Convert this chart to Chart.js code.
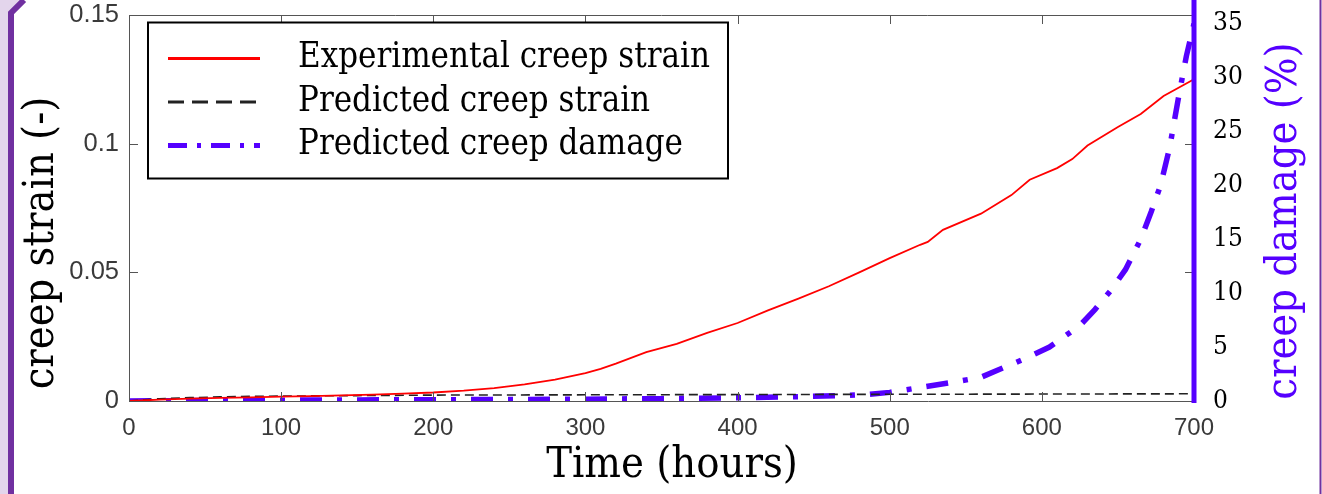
<!DOCTYPE html>
<html>
<head>
<meta charset="utf-8">
<script src="https://cdn.jsdelivr.net/npm/chart.js@4.4.1/dist/chart.umd.min.js"></script>
<style>
  html, body { margin: 0; padding: 0; background: #fff; }
  #wrap { position: relative; width: 1322px; height: 494px; overflow: hidden; }
  #frame { position: absolute; left: 0; top: 0; }
  #grafico { position: absolute; left: 0; top: 0; }
</style>
</head>
<body>
<div id="wrap">
  <svg id="frame" width="1322" height="494">
    <polygon points="0,0 24,0 11,13 11,494 0,494" fill="#e3d5ec"/>
    <polyline points="11,494 11,13 24,0" fill="none" stroke="#7030a0" stroke-width="6"/>
    <line x1="1320.5" y1="0" x2="1320.5" y2="494" stroke="#7030a0" stroke-width="2"/>
  </svg>
  <canvas id="grafico" width="1322" height="494"></canvas>
</div>
<script>
// tempo in ore, deformazione (-) e danno (%)
const oreSperimentali = [0, 20, 40, 60, 80, 100, 120, 140, 160, 180, 200, 220, 240, 260, 280, 300, 310, 320, 340, 360, 380, 400, 420, 440, 460, 480, 500, 520, 525, 535, 560, 580, 592, 610, 620, 630, 650, 665, 680, 700];
const deformSperimentale = [0, 0.0005, 0.0009, 0.0012, 0.0014, 0.0017, 0.0019, 0.0022, 0.0025, 0.0029, 0.0033, 0.0040, 0.0050, 0.0065, 0.0083, 0.0108, 0.0125, 0.0145, 0.0190, 0.0222, 0.0265, 0.0303, 0.0352, 0.0398, 0.0446, 0.0500, 0.0555, 0.0607, 0.0618, 0.0665, 0.0728, 0.0800, 0.0860, 0.0905, 0.0940, 0.0993, 0.1065, 0.1115, 0.1185, 0.1250];

const orePreviste = [0, 10, 20, 40, 60, 80, 100, 150, 200, 300, 400, 500, 600, 700];
const deformPrevista = [0, 0.0005, 0.0009, 0.0013, 0.0016, 0.0018, 0.0019, 0.0021, 0.0023, 0.0024, 0.0025, 0.0026, 0.0027, 0.0028];

const oreDanno = [0, 50, 100, 150, 200, 250, 300, 350, 400, 440, 470, 485, 500, 520, 540, 560, 575, 590, 605, 615, 625, 635, 645, 655, 665, 672, 678, 684, 690, 695, 700];
const dannoPrevisto = [0, 0.05, 0.08, 0.1, 0.12, 0.14, 0.17, 0.22, 0.3, 0.4, 0.5, 0.6, 0.8, 1.25, 1.7, 2.2, 3.1, 4.0, 5.0, 6.0, 7.0, 8.5, 10.2, 12.2, 15.0, 17.6, 20.0, 23.5, 28.3, 32.0, 35.0];

const tickOre = [0, 100, 200, 300, 400, 500, 600, 700];
const tickDeform = [0, 0.05, 0.1, 0.15];
const tickDanno = [0, 5, 10, 15, 20, 25, 30, 35];

const etichette = ['Experimental creep strain', 'Predicted creep strain', 'Predicted creep damage'];

const VIOLA = '#5500ff';
const GRIGIO = '#555555';
const SERIF = "'DejaVu Serif Condensed', 'DejaVu Serif', serif";
const SANS = "'Liberation Sans', Arial, sans-serif";

const punti = (xs, ys) => xs.map((x, i) => ({ x, y: ys[i] }));

// gli assi verticali non devono spingere in basso l'area del grafico
const senzaMargini = s => { s.paddingTop = 0; s.paddingBottom = 0; };

// tacche verso l'interno, bordo superiore, asse destro spesso e titoli
const cornice = {
  id: 'cornice',
  afterDraw(chart) {
    const { ctx, chartArea: a, scales } = chart;
    const lung = 9;
    ctx.save();
    ctx.strokeStyle = GRIGIO;
    ctx.lineWidth = 1;
    ctx.beginPath();
    ctx.moveTo(a.left, a.top + 0.5);
    ctx.lineTo(a.right, a.top + 0.5);
    scales.x.ticks.forEach(t => {
      const px = Math.round(scales.x.getPixelForValue(t.value)) + 0.5;
      ctx.moveTo(px, a.bottom);
      ctx.lineTo(px, a.bottom - lung);
      ctx.moveTo(px, a.top);
      ctx.lineTo(px, a.top + lung);
    });
    scales.y.ticks.forEach(t => {
      const py = Math.round(scales.y.getPixelForValue(t.value)) + 0.5;
      ctx.moveTo(a.left, py);
      ctx.lineTo(a.left + lung, py);
      ctx.moveTo(a.right, py);
      ctx.lineTo(a.right - lung, py);
    });
    ctx.stroke();

    ctx.strokeStyle = VIOLA;
    ctx.lineWidth = 5;
    ctx.beginPath();
    ctx.moveTo(a.right, 0);
    ctx.lineTo(a.right, a.bottom + 2);
    ctx.stroke();

    ctx.textAlign = 'center';
    ctx.textBaseline = 'middle';
    ctx.font = '43px ' + SERIF;
    ctx.fillStyle = '#000';
    ctx.fillText('Time (hours)', 672, 466);
    ctx.save();
    ctx.translate(42, 243);
    ctx.rotate(-Math.PI / 2);
    ctx.fillText('creep strain (-)', 0, 0);
    ctx.restore();
    ctx.fillStyle = VIOLA;
    ctx.save();
    ctx.translate(1285, 221);
    ctx.rotate(-Math.PI / 2);
    ctx.fillText('creep damage (%)', 0, 0);
    ctx.restore();
    ctx.restore();
  }
};

// legenda riquadrata in alto a sinistra
const legendaBox = {
  id: 'legendaBox',
  afterDraw(chart) {
    const { ctx, chartArea: a } = chart;
    const x0 = a.left + 19, y0 = a.top + 7.5;
    ctx.save();
    ctx.fillStyle = '#fff';
    ctx.fillRect(x0, y0, 580, 156);
    ctx.strokeStyle = '#000';
    ctx.lineWidth = 2;
    ctx.strokeRect(x0, y0, 580, 156);
    const stili = [[], [16, 8], [19, 10, 4, 10]];
    const spessori = [3, 3, 5];
    chart.data.datasets.forEach((ds, i) => {
      const y = y0 + 36 + i * 43.5;
      ctx.strokeStyle = ds.borderColor;
      ctx.lineWidth = spessori[i];
      ctx.setLineDash(stili[i]);
      ctx.beginPath();
      ctx.moveTo(x0 + 20, y);
      ctx.lineTo(x0 + 112, y);
      ctx.stroke();
      ctx.setLineDash([]);
      ctx.fillStyle = '#000';
      ctx.font = '34.5px ' + SERIF;
      ctx.textBaseline = 'middle';
      ctx.fillText(ds.label, x0 + 150, y);
    });
    ctx.restore();
  }
};

new Chart(document.getElementById('grafico').getContext('2d'), {
  type: 'line',
  data: {
    datasets: [
      {
        label: etichette[0],
        data: punti(oreSperimentali, deformSperimentale),
        borderColor: '#ff0000',
        borderWidth: 1.8,
        pointRadius: 0,
        yAxisID: 'y'
      },
      {
        label: etichette[1],
        data: punti(orePreviste, deformPrevista),
        borderColor: '#222222',
        borderWidth: 1.6,
        borderDash: [9, 5],
        pointRadius: 0,
        yAxisID: 'y'
      },
      {
        label: etichette[2],
        data: punti(oreDanno, dannoPrevisto),
        borderColor: VIOLA,
        borderWidth: 5.5,
        borderDash: [22, 15, 5, 15],
        pointRadius: 0,
        yAxisID: 'y2'
      }
    ]
  },
  options: {
    responsive: false,
    animation: false,
    layout: { padding: { top: 15 } },
    plugins: {
      legend: { display: false },
      tooltip: { enabled: false }
    },
    scales: {
      x: {
        type: 'linear',
        min: 0,
        max: 700,
        afterBuildTicks: s => { s.ticks = tickOre.map(v => ({ value: v })); },
        afterFit: s => { s.height = 93; },
        grid: { drawOnChartArea: false, drawTicks: false },
        border: { color: GRIGIO, width: 1 },
        ticks: { color: '#3a3a3a', font: { family: SANS, size: 24 }, padding: 13, maxRotation: 0 }
      },
      y: {
        position: 'left',
        min: 0,
        max: 0.15,
        afterBuildTicks: s => { s.ticks = tickDeform.map(v => ({ value: v })); },
        afterFit: s => { s.width = 129; senzaMargini(s); },
        grid: { drawOnChartArea: false, drawTicks: false },
        border: { color: GRIGIO, width: 1 },
        ticks: { color: '#3a3a3a', font: { family: SANS, size: 25.5 }, padding: 10, callback: v => String(v) }
      },
      y2: {
        position: 'right',
        min: 0,
        max: 35.8,
        afterBuildTicks: s => { s.ticks = tickDanno.map(v => ({ value: v })); },
        afterFit: s => { s.width = 128; senzaMargini(s); },
        grid: { drawOnChartArea: false, drawTicks: false },
        border: { display: false },
        ticks: { color: '#000', font: { family: SERIF, size: 26 }, padding: 19, callback: v => String(v) }
      }
    }
  },
  plugins: [cornice, legendaBox]
});
</script>
</body>
</html>
